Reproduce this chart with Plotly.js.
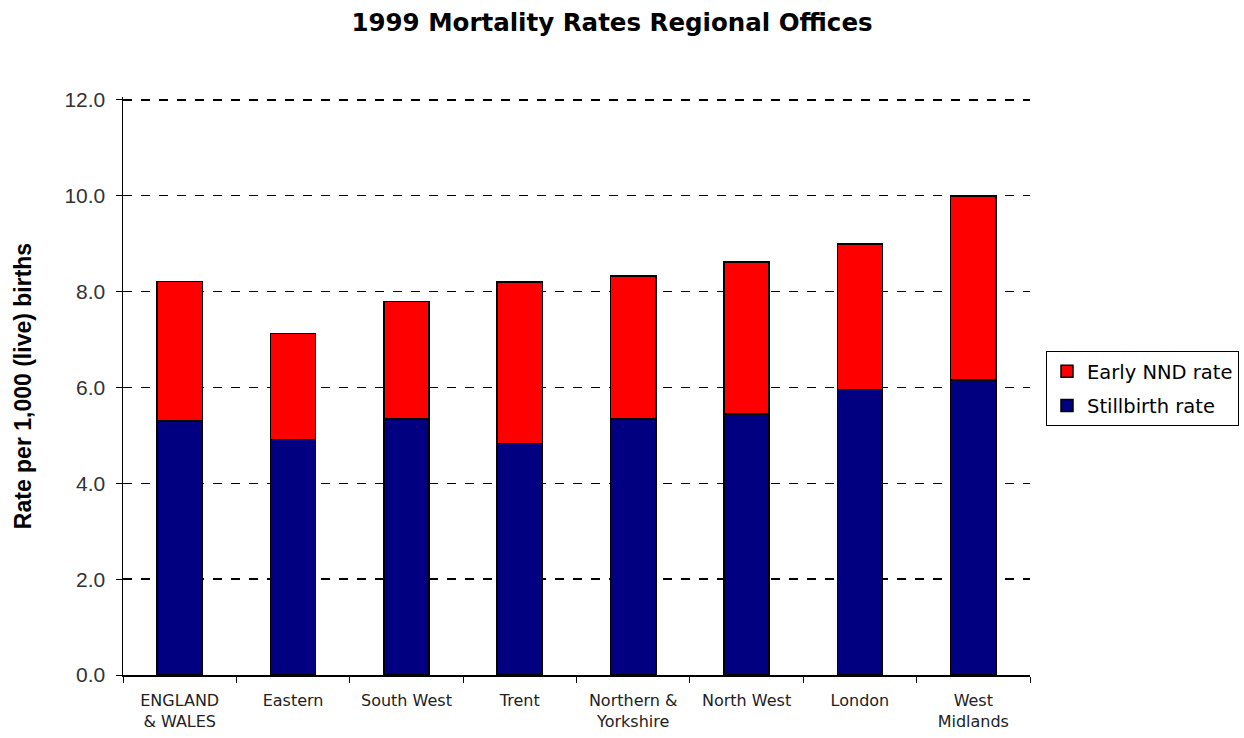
<!DOCTYPE html>
<html>
<head>
<meta charset="utf-8">
<script src="https://cdn.plot.ly/plotly-3.0.1.min.js"></script>
<style>html,body{margin:0;padding:0;background:#fff;}#chart{width:1244px;height:738px;}</style>
</head>
<body>
<div id="chart"></div>
<script>
const regions = ['ENGLAND<br>& WALES','Eastern','South West','Trent','Northern &<br>Yorkshire','North West','London','West<br>Midlands'];
const stillbirthRate = [5.30, 4.91, 5.34, 4.83, 5.34, 5.45, 5.96, 6.16];
const earlyNNDRate = [2.91, 2.22, 2.45, 3.37, 2.99, 3.17, 3.03, 3.83];
const yTicks = [0, 2, 4, 6, 8, 10, 12];

const traces = [
  {type:'bar', name:'Stillbirth rate', x:regions, y:stillbirthRate, legendrank:2, legendgroup:'s',
   marker:{color:'#000080', line:{color:'#000', width:1.5}}, hoverinfo:'y'},
  {type:'bar', name:'Early NND rate', x:regions, y:earlyNNDRate, legendrank:1, legendgroup:'e',
   marker:{color:'#ff0000', line:{color:'#000', width:1.5}}, hoverinfo:'y'}
];

const layout = {
  width:1244, height:738,
  margin:{l:123, r:214, t:97, b:63},
  paper_bgcolor:'#fff', plot_bgcolor:'#fff',
  barmode:'stack', bargap:0.6,
  font:{family:'Arial, Liberation Sans, sans-serif', color:'#000'},
  title:{text:'<b>1999 Mortality Rates Regional Offices</b>', x:0.492, xanchor:'center', y:0.97, yanchor:'middle',
         font:{size:24.5, color:'#000', family:'DejaVu Sans, Arial, sans-serif'}},
  xaxis:{showline:true, linecolor:'#000', linewidth:1.5, ticks:'outside', ticklen:6, tickcolor:'#000',
         tickson:'boundaries', ticklabelstandoff:10,
         tickfont:{size:16, color:'#222', family:'DejaVu Sans, Arial, sans-serif'}, showgrid:false, fixedrange:true},
  yaxis:{range:[0,12.06], tickvals:yTicks, tickformat:'.1f', showline:true, linecolor:'#000', linewidth:1.5,
         ticks:'outside', ticklen:6, tickcolor:'#000', ticklabelstandoff:6, tickfont:{size:21, color:'#333'},
         showgrid:true, gridcolor:'#000', gridwidth:1.5, griddash:'dash', zeroline:false,
         title:{text:'<b>Rate per 1,000 (live) births</b>', standoff:26, font:{size:23, color:'#000'}}, fixedrange:true},
  legend:{xref:'container', yref:'container', x:1046/1244, y:1-351/738, xanchor:'left', yanchor:'top',
          traceorder:'grouped', bordercolor:'#000', borderwidth:1, bgcolor:'#fff',
          font:{size:19.5, color:'#000', family:'DejaVu Sans, Arial, sans-serif'}, itemwidth:30, tracegroupgap:6},
  showlegend:true
};
Plotly.newPlot('chart', traces, layout, {displayModeBar:false, staticPlot:true});
</script>
</body>
</html>
